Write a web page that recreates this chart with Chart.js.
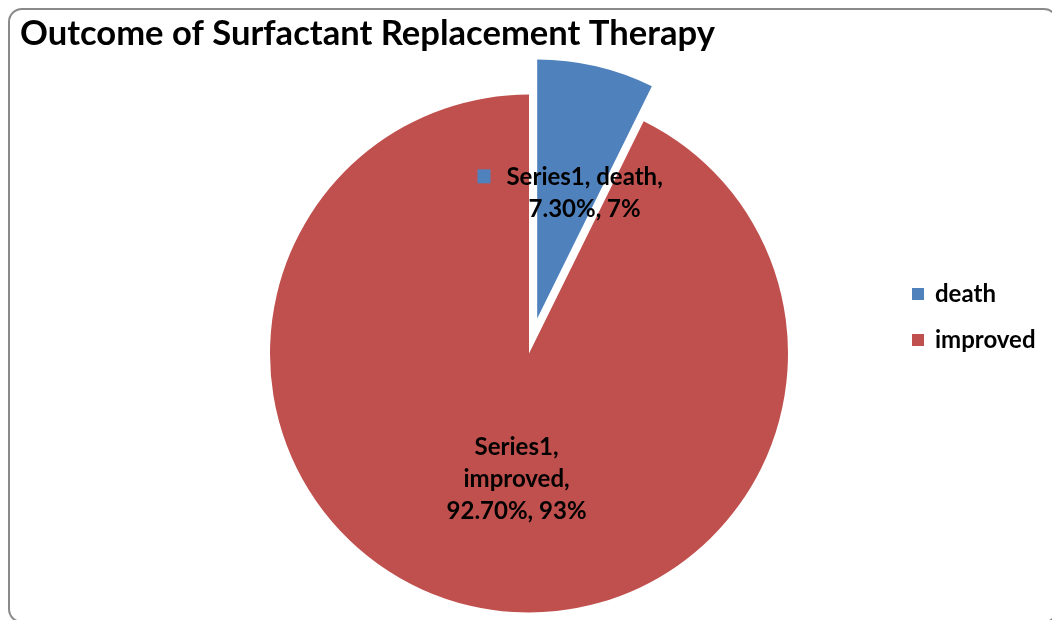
<!DOCTYPE html>
<html>
<head>
<meta charset="utf-8">
<script src="https://cdn.jsdelivr.net/npm/chart.js"></script>
<style>
body { margin: 0; background: #fff; overflow: hidden; }
#wrap { position: relative; width: 1052px; height: 620px; overflow: hidden; }
#frame { position: absolute; left: 8px; top: 8px; width: 1050px; height: 615px; border: 2px solid #8a8a8a; border-radius: 14px; box-sizing: border-box; }
canvas { position: absolute; left: 0; top: 0; }
</style>
</head>
<body>
<div id="wrap">
  <div id="frame"></div>
  <canvas id="outcomePie" width="1052" height="620"></canvas>
</div>
<script>
const categories = ['death', 'improved']
const values = [7.3, 92.7]
const colors = ['#4F81BD', '#C0504D']
const seriesName = 'Series1'
const titleText = 'Outcome of Surfactant Replacement Therapy'

const fontFamily = 'Lato'
const labelFont = 'bold 24px ' + fontFamily
const lineGap = 32
// how far each slice is pulled out of the pie, in px
const explode = [36, 0]
// small shifts so the labels sit where Excel put them
const nudges = [[18, 1], [17, 0]]

const wrapWords = (ctx, words, maxWidth) => {
    const lines = []
    let line = ''
    words.forEach(w => {
        const test = line ? line + ' ' + w : w
        if (line && ctx.measureText(test).width > maxWidth) {
            lines.push(line)
            line = w
        } else {
            line = test
        }
    })
    if (line) lines.push(line)
    return lines
}

// Chart.js' own offset also grows the slice, so move the arc centre instead
const explodeSlices = {
    id: 'explodeSlices',
    afterDatasetsUpdate(chart) {
        chart.getDatasetMeta(0).data.forEach((arc, i) => {
            const mid = (arc.startAngle + arc.endAngle) / 2
            arc.x += Math.cos(mid) * explode[i]
            arc.y += Math.sin(mid) * explode[i]
        })
    }
}

const pieLabels = {
    id: 'pieLabels',
    afterDatasetsDraw(chart) {
        const ctx = chart.ctx
        const meta = chart.getDatasetMeta(0)
        const total = values.reduce((a, b) => a + b, 0)
        ctx.save()
        ctx.font = labelFont
        ctx.fillStyle = '#000'
        ctx.textAlign = 'center'
        ctx.textBaseline = 'middle'
        meta.data.forEach((arc, i) => {
            const pct = Math.round(values[i] / total * 100)
            const words = [seriesName + ',', categories[i] + ',', values[i].toFixed(2) + '%,', pct + '%']
            const lines = wrapWords(ctx, words, 175)
            const c = arc.getCenterPoint()
            const x = c.x + nudges[i][0]
            const y0 = c.y + nudges[i][1] - (lines.length - 1) * lineGap / 2
            lines.forEach((l, j) => ctx.fillText(l, x, y0 + j * lineGap))
            // legend key in front of the label (invisible on its own slice colour)
            const w0 = ctx.measureText(lines[0]).width
            ctx.fillStyle = colors[i]
            ctx.fillRect(x - w0 / 2 - 29, y0 - 8, 13, 14)
            ctx.fillStyle = '#000'
        })
        ctx.restore()
    }
}

const sideLegend = {
    id: 'sideLegend',
    afterDraw(chart) {
        const ctx = chart.ctx
        ctx.save()
        ctx.font = labelFont
        ctx.textBaseline = 'middle'
        categories.forEach((cat, i) => {
            const y = 294 + i * 46
            ctx.fillStyle = colors[i]
            ctx.fillRect(912, y - 6, 12, 12)
            ctx.fillStyle = '#000'
            ctx.fillText(cat, 935, y)
        })
        ctx.restore()
    }
}

const outcomePie = document.getElementById('outcomePie').getContext('2d')
new Chart(outcomePie, {
    type: 'pie',
    data: {
        labels: categories,
        datasets: [{
            label: seriesName,
            data: values,
            backgroundColor: colors,
            borderWidth: 0
        }]
    },
    options: {
        responsive: false,
        animation: false,
        events: [],
        radius: 259,
        layout: { padding: { left: 20, right: 14, top: 0, bottom: 0 } },
        plugins: {
            legend: { display: false },
            tooltip: { enabled: false },
            title: {
                display: true,
                text: titleText,
                align: 'start',
                color: '#000',
                font: { family: fontFamily, size: 34.6, weight: 'bold', lineHeight: 1.2 },
                padding: { top: 13, bottom: 32.5 }
            }
        }
    },
    plugins: [explodeSlices, pieLabels, sideLegend]
});
</script>
</body>
</html>
